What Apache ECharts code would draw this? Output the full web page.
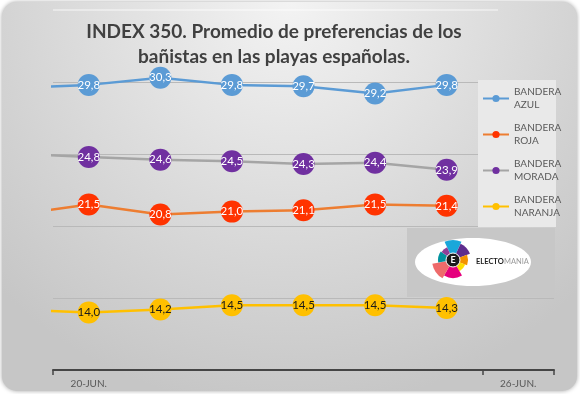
<!DOCTYPE html>
<html>
<head>
<meta charset="utf-8">
<script src="https://cdn.jsdelivr.net/npm/echarts@6/dist/echarts.min.js"></script>
<style>html,body{margin:0;padding:0;background:#fff;}#c{width:580px;height:394px;}</style>
</head>
<body>
<div id="c"></div>
<script>
// ---- data ----
var days = ['20-JUN.', '21-JUN.', '22-JUN.', '23-JUN.', '24-JUN.', '25-JUN.', '26-JUN.'];
var seriesNames = ['BANDERA\nAZUL', 'BANDERA\nROJA', 'BANDERA\nMORADA', 'BANDERA\nNARANJA'];
var azul = [29.8, 30.3, 29.8, 29.7, 29.2, 29.8];
var roja = [21.5, 20.8, 21.0, 21.1, 21.5, 21.4];
var morada = [24.8, 24.6, 24.5, 24.3, 24.4, 23.9];
var naranja = [14.0, 14.2, 14.5, 14.5, 14.5, 14.3];
// value of the preceding day, only partly visible at the left edge
var previous = [29.6, 20.8, 25.0, 14.2];
var yTicks = [10, 15, 20, 25, 30];

var FONT = 'Lato';

function build(values, prev) {
  var d = [{ value: [-1, prev], symbol: 'none', label: { show: false } }];
  values.forEach(function (v, i) { d.push({ value: [i, v] }); });
  return d;
}
function fmt(p) { return p.value[1].toFixed(1).replace('.', ','); }

var styles = [
  { line: '#5B9BD5', mark: '#5B9BD5', text: '#ffffff' },
  { line: '#ED7D31', mark: '#FF3300', text: '#ffffff' },
  { line: '#A5A5A5', mark: '#7030A0', text: '#ffffff' },
  { line: '#FFC000', mark: '#FFC000', text: '#1a1a1a' }
];
var allValues = [azul, roja, morada, naranja];

var series = allValues.map(function (vals, k) {
  return {
    name: seriesNames[k],
    type: 'line',
    xAxisIndex: 1,
    data: build(vals, previous[k]),
    symbol: 'circle',
    symbolSize: 22,
    clip: true,
    lineStyle: { color: styles[k].line, width: 2.5 },
    itemStyle: { color: styles[k].mark },
    label: {
      show: true, position: 'inside', formatter: fmt,
      color: styles[k].text, fontFamily: FONT, fontSize: 11.5
    },
    emphasis: { disabled: true }
  };
});

// simple logo drawing
function deg(a) { return a * Math.PI / 180; }
var petals = [
  [-115, -65, 20, '#1AA7DA'], [-65, -20, 18, '#5E2D8E'], [-20, 20, 15, '#F39200'],
  [20, 60, 13, '#FFDD00'], [60, 120, 18, '#E5007D'], [120, 170, 21, '#EE6B6B'],
  [170, 215, 15, '#00939F'], [215, 245, 14, '#8E3F97']
];
var logo = [
  { type: 'rect', z: 1, shape: { x: 407, y: 228, width: 148, height: 69 }, style: { fill: '#c7c7c7' } },
  { type: 'ellipse', z: 1, shape: { cx: 473, cy: 262, rx: 58, ry: 24 }, style: { fill: '#ffffff' } }
];
petals.forEach(function (p) {
  logo.push({ type: 'sector', z: 1, shape: { cx: 453, cy: 260, r0: 0, r: p[2], startAngle: deg(p[0]), endAngle: deg(p[1]) }, style: { fill: p[3] } });
});
logo.push({ type: 'circle', z: 1, shape: { cx: 453, cy: 260, r: 7 }, style: { fill: '#1b1b1b', stroke: '#ffffff', lineWidth: 1 } });
logo.push({ type: 'text', z: 1, x: 453, y: 260.5, style: { text: 'E', fill: '#fff', font: 'bold 9px ' + FONT, align: 'center', verticalAlign: 'middle' } });
logo.push({ type: 'text', z: 1, x: 476, y: 262, style: { text: 'ELECTO', fill: '#222', font: 'bold 7.5px ' + FONT, verticalAlign: 'middle' } });
logo.push({ type: 'text', z: 1, x: 504, y: 262, style: { text: 'MANIA', fill: '#9a9a9a', font: '7.5px ' + FONT, verticalAlign: 'middle' } });

var chart = echarts.init(document.getElementById('c'), null, { renderer: 'canvas' });
chart.setOption({
  animation: false,
  backgroundColor: 'transparent',
  title: {
    text: 'INDEX 350. Promedio de preferencias de los\nbañistas en las playas españolas.',
    left: 274, top: 19, textAlign: 'center', padding: 0,
    textStyle: { fontFamily: FONT, fontSize: 19, fontWeight: 'bold', color: '#404040', lineHeight: 25 }
  },
  graphic: [
    { type: 'rect', z: -10, shape: { x: 2, y: 2, width: 575, height: 389, r: 15 },
      style: {
        fill: new echarts.graphic.RadialGradient(0.5, 0, 1.05, [
          { offset: 0, color: '#f3f3f3' }, { offset: 1, color: '#c6c6c6' }
        ]),
        shadowBlur: 4, shadowColor: 'rgba(0,0,0,0.35)'
      } },
    { type: 'line', z: -9, shape: { x1: 53, y1: 10, x2: 498, y2: 10 }, style: { stroke: 'rgba(255,255,255,0.8)', lineWidth: 1 } },
    { type: 'rect', z: 1, shape: { x: 478, y: 80, width: 78, height: 147 }, style: { fill: '#e9e9e9' } }
  ].concat(logo),
  legend: {
    orient: 'vertical', left: 482, top: 79, padding: 0,
    itemWidth: 26, itemHeight: 9, itemGap: -3,
    data: seriesNames,
    textStyle: { fontFamily: FONT, fontSize: 10, color: '#595959', lineHeight: 13, padding: [13, 0, 0, 0] },
    selectedMode: false
  },
  grid: { left: 53, right: 26, top: 10, bottom: 24 },
  xAxis: [
    {
      type: 'category', data: days, boundaryGap: true,
      axisLine: { lineStyle: { color: '#454545', width: 2 } },
      axisTick: { show: true, interval: 5, length: 5, lineStyle: { color: '#454545', width: 1.5 } },
      axisLabel: { interval: 5, color: '#595959', fontFamily: FONT, fontSize: 10, margin: 9 },
      splitLine: { show: false }
    },
    { type: 'value', min: -0.5, max: 6.5, show: false }
  ],
  yAxis: {
    type: 'value', min: yTicks[0], max: 35, interval: 5,
    axisLine: { show: false }, axisTick: { show: false }, axisLabel: { show: false },
    splitLine: { show: true, showMaxLine: false, lineStyle: { color: '#b9b9b9', width: 1 } }
  },
  series: series
});
</script>
</body>
</html>
